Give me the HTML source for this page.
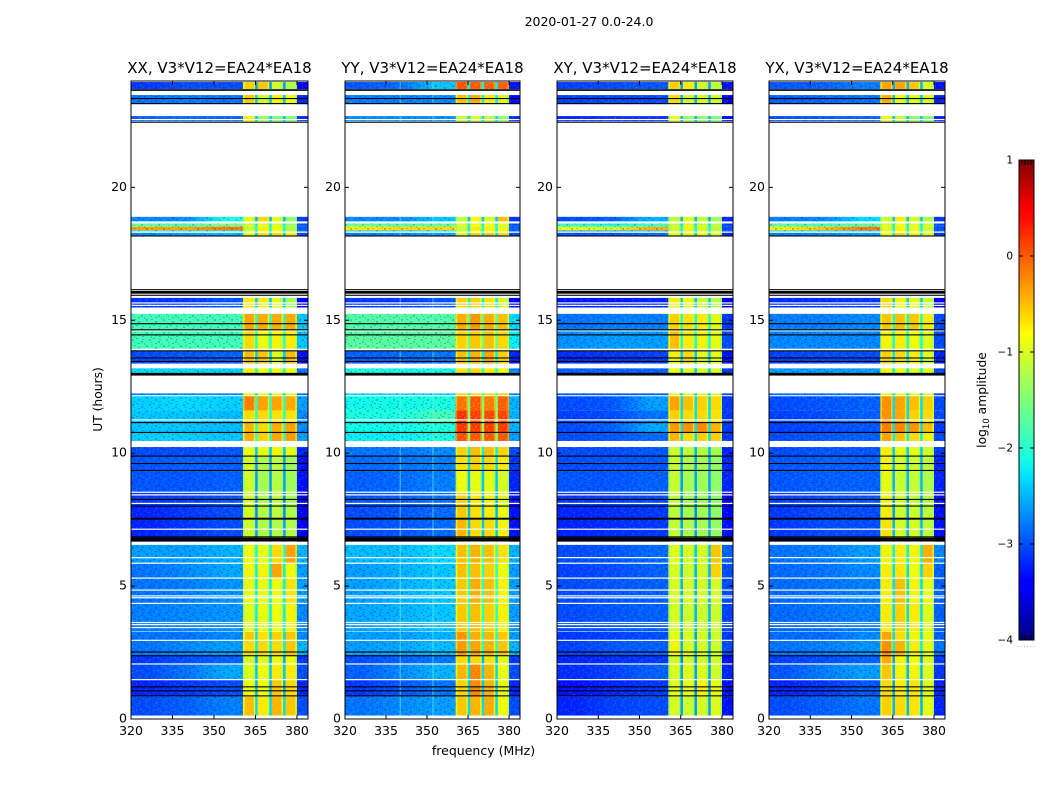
<!DOCTYPE html>
<html>
<head>
<meta charset="utf-8">
<title>2020-01-27 0.0-24.0</title>
<style>
html,body{margin:0;padding:0;background:#fff;width:1050px;height:800px;overflow:hidden}
svg{display:block}
text{font-family:"DejaVu Sans","Liberation Sans",sans-serif;fill:#000}
</style>
</head>
<body>
<svg id="chart" xmlns="http://www.w3.org/2000/svg" width="1050" height="800" viewBox="0 0 1050 800">
  <defs id="defs">
    <pattern id="speckle" width="17" height="13" patternUnits="userSpaceOnUse">
      <rect x="0" y="0" width="2" height="1" fill="#0000d0" opacity=".3"/>
      <rect x="3" y="0" width="1" height="2" fill="#50e0ff" opacity=".2"/>
      <rect x="6" y="1" width="2" height="1" fill="#0000b0" opacity=".25"/>
      <rect x="10" y="0" width="1" height="1" fill="#60e8ff" opacity=".22"/>
      <rect x="13" y="1" width="2" height="2" fill="#0000d0" opacity=".22"/>
      <rect x="1" y="3" width="1" height="1" fill="#60e8ff" opacity=".22"/>
      <rect x="5" y="3" width="2" height="2" fill="#0000d0" opacity=".22"/>
      <rect x="9" y="3" width="2" height="1" fill="#50e0ff" opacity=".18"/>
      <rect x="15" y="4" width="1" height="1" fill="#0000a0" opacity=".28"/>
      <rect x="2" y="5" width="2" height="1" fill="#0000b0" opacity=".26"/>
      <rect x="8" y="5" width="1" height="2" fill="#0000d0" opacity=".22"/>
      <rect x="12" y="5" width="2" height="1" fill="#60e8ff" opacity=".18"/>
      <rect x="0" y="7" width="1" height="2" fill="#50e0ff" opacity=".18"/>
      <rect x="4" y="7" width="2" height="1" fill="#60e8ff" opacity=".18"/>
      <rect x="10" y="7" width="2" height="2" fill="#0000c0" opacity=".24"/>
      <rect x="15" y="7" width="2" height="1" fill="#0000d0" opacity=".22"/>
      <rect x="2" y="9" width="2" height="2" fill="#0000c0" opacity=".22"/>
      <rect x="7" y="9" width="1" height="1" fill="#60e8ff" opacity=".2"/>
      <rect x="13" y="9" width="1" height="2" fill="#50e0ff" opacity=".18"/>
      <rect x="6" y="11" width="2" height="1" fill="#0000b0" opacity=".25"/>
      <rect x="10" y="11" width="2" height="1" fill="#60e8ff" opacity=".18"/>
      <rect x="15" y="11" width="1" height="2" fill="#0000c0" opacity=".22"/>
    </pattern>
    <pattern id="gold-speckle" width="11" height="9" patternUnits="userSpaceOnUse">
      <rect x="0" y="0" width="2" height="1" fill="#a0ff50" opacity=".3"/>
      <rect x="5" y="1" width="1" height="2" fill="#ff9000" opacity=".25"/>
      <rect x="8" y="2" width="2" height="1" fill="#a0ff50" opacity=".25"/>
      <rect x="2" y="3" width="2" height="2" fill="#ffe000" opacity=".25"/>
      <rect x="7" y="5" width="2" height="1" fill="#ff9000" opacity=".2"/>
      <rect x="0" y="6" width="1" height="2" fill="#a0ff50" opacity=".25"/>
      <rect x="4" y="7" width="2" height="1" fill="#a0ff50" opacity=".25"/>
    </pattern>
    <linearGradient id="jet-gradient" x1="0" y1="1" x2="0" y2="0">
      <stop offset="0" stop-color="#000080"/>
      <stop offset=".11" stop-color="#0000ff"/>
      <stop offset=".125" stop-color="#0000ff"/>
      <stop offset=".34" stop-color="#00e0ff"/>
      <stop offset=".375" stop-color="#13fde4"/>
      <stop offset=".5" stop-color="#7dff7a"/>
      <stop offset=".64" stop-color="#ffff00"/>
      <stop offset=".66" stop-color="#ffe600"/>
      <stop offset=".89" stop-color="#ff0000"/>
      <stop offset=".91" stop-color="#f00000"/>
      <stop offset="1" stop-color="#800000"/>
    </linearGradient>
  </defs>
  <text x="589" y="26" font-size="12.5" text-anchor="middle">2020-01-27 0.0-24.0</text>
  <text x="483.5" y="755" font-size="12.5" text-anchor="middle">frequency (MHz)</text>
  <text transform="translate(102,399.5) rotate(-90)" font-size="12.3" text-anchor="middle">UT (hours)</text>
  <g id="panels"></g>
  <g id="colorbar">
    <rect x="1019" y="160" width="15" height="480" fill="url(#jet-gradient)" stroke="#000" stroke-width="1"/>
    <text transform="translate(986,400) rotate(-90)" font-size="12.3" text-anchor="middle">log<tspan font-size="8.5" dy="3">10</tspan><tspan dy="-3"> amplitude</tspan></text>
    <text x="1017" y="647" font-size="6" letter-spacing="1.3" style="fill:#777">......</text>
  </g>
</svg>
<script>
/* ---------- shared axes data ---------- */
var freqTicks = [320, 335, 350, 365, 380];
var timeTicks = [0, 5, 10, 15, 20];
var colorbarTicks = [1, 0, -1, -2, -3, -4];
var colorbarEdgeTicks = [0, 0.2, 0.4, 0.6, 0.8, 1];
var panelTitles = ['XX, V3*V12=EA24*EA18', 'YY, V3*V12=EA24*EA18', 'XY, V3*V12=EA24*EA18', 'YX, V3*V12=EA24*EA18'];

/* time extent of each row of cells, UT hours */
var rowTimes = [
[0.13,0.84],[0.84,1.48],[1.48,2.08],[2.08,2.38],[2.38,2.95],[2.95,3.28],[3.30,4.33],[4.33,5.31],[5.31,5.87],[5.87,6.55],
[6.67,7.52],[7.52,8.01],[8.01,8.54],[8.54,9.36],[9.36,9.89],[9.89,10.23],[10.46,10.79],[10.79,11.16],[11.16,11.61],[11.61,12.14],
[12.18,12.25],[13.01,13.19],[13.37,13.86],[13.93,14.58],[14.62,15.24],[15.48,15.84],[18.19,18.29],[18.34,18.38],[18.38,18.52],[18.52,18.57],
[18.57,18.64],[18.72,18.89],[22.49,22.68],[23.13,23.47],[23.70,23.96]];

/* frequency extent of each column, MHz; last value of each row is the notch level */
var bandEdges = [[320,333],[333,347],[347,360.5],[360.5,365],[365,370],[370,375],[375,380],[380,384]];
var notchBands = [[364.9,365.8],[370,370.9],[375,375.9]];

/* log10 amplitude: low1, low2, low3, sub1, sub2, sub3, sub4, high, notch */
var valuesXX = [
[-3,-2.9,-2.75,-.45,-.7,-.4,-.5,-3,-2.3],[-3.2,-3.1,-3,-.8,-.8,-.5,-.6,-3.2,-2.5],[-3,-2.8,-2.55,-.9,-.8,-.7,-.7,-3,-2.4],[-3.1,-3,-2.9,-.95,-.9,-.85,-.8,-3.1,-2.6],
[-2.8,-2.7,-2.6,-.6,-.6,-.6,-.5,-2.5,-2.2],[-2.8,-2.8,-2.7,-.5,-.65,-.55,-.5,-2.7,-2.3],[-2.75,-2.7,-2.65,-.9,-.85,-.8,-.75,-2.7,-2.2],[-2.8,-2.75,-2.65,-.85,-.85,-.8,-.65,-2.6,-2.2],
[-2.8,-2.7,-2.55,-.75,-.75,-.3,-.8,-2.6,-2.2],[-2.6,-2.6,-2.5,-.8,-.85,-.6,-.3,-2.5,-2.1],[-3.2,-3.1,-3,-1,-1.2,-1.2,-1.2,-3.4,-2.6],[-3.2,-3.1,-3,-.95,-1.15,-1.1,-1.2,-3.4,-2.7],
[-3.1,-3.05,-2.95,-.95,-1.2,-1.1,-1.25,-3.4,-2.7],[-2.95,-2.95,-2.9,-1,-1.25,-1.15,-1.3,-3.3,-2.6],[-2.95,-2.9,-2.9,-.95,-1.2,-1.1,-1.3,-3.3,-2.6],[-3,-3,-2.95,-.8,-.85,-.75,-.85,-3.2,-2.4],
[-2.35,-2.35,-2.4,-.35,-.55,-.3,-.25,-2.6,-2],[-2.4,-2.4,-2.45,-.4,-.6,-.35,-.3,-2.7,-2],[-2.4,-2.4,-2.45,-.6,-.6,-.65,-.65,-2.7,-2],[-2.35,-2.3,-2.35,-.1,-.3,-.3,-.35,-2.6,-2],
[-2.7,-2.7,-2.7,-.8,-.8,-.8,-.8,-2.8,-2.3],[-2.3,-2.3,-2.35,-.7,-.8,-.8,-.8,-2.8,-2.1],[-3,-2.95,-2.9,-.45,-.5,-.9,-.45,-3.3,-2.4],[-1.85,-1.85,-1.85,-.6,-.8,-.75,-.7,-2.4,-2],
[-1.85,-1.85,-1.85,-.3,-.35,-.35,-.35,-2.4,-2],[-3.1,-3.1,-2.95,-.7,-.7,-.9,-1.3,-3.4,-2.4],[-2.7,-2.6,-2.5,-.9,-.65,-.6,-.7,-3,-2.4],[-2.2,-2.3,-2.2,-1.1,-.8,-.9,-1.3,-3,-2.3],
[-.3,-.35,-.1,-1,-.75,-.8,-1.2,-2.9,-2],[-1.6,-1.8,-1.7,-1,-.8,-.9,-1.3,-3,-2.2],[-1.7,-1.9,-1.4,-1,-.8,-.9,-1.3,-3,-2.2],[-2.7,-2.7,-2.1,-.9,-.6,-.9,-1.4,-3.1,-2.5],
[-2.9,-2.85,-2.9,-.7,-1.3,-1.5,-1.5,-3.2,-2.4],[-2.8,-2.75,-2.8,-.5,-1,-.75,-.8,-3.2,-2.4],[-3.1,-3,-3,-.55,-.5,-1,-1.2,-3.4,-2.6]];

var valuesYY = [
[-2.8,-2.7,-2.6,-.5,-.4,-.35,-.8,-3,-2.3],[-3.1,-2.95,-2.8,-.55,-.15,-.4,-.85,-3.2,-2.4],[-2.9,-2.7,-2.5,-.4,-.15,-.4,-.8,-3,-2.3],[-3,-2.9,-2.8,-.6,-.6,-.65,-.85,-3.1,-2.5],
[-2.6,-2.55,-2.45,-.25,-.3,-.4,-.5,-2.5,-2],[-2.6,-2.6,-2.5,-.2,-.35,-.4,-.5,-2.6,-2.1],[-2.55,-2.5,-2.4,-.5,-.45,-.55,-.75,-2.6,-2],[-2.6,-2.5,-2.4,-.5,-.35,-.45,-.75,-2.6,-2],
[-2.6,-2.5,-2.4,-.45,-.45,-.55,-.8,-2.6,-2],[-2.45,-2.45,-2.3,-.45,-.4,-.45,-.65,-2.5,-1.9],[-3,-2.95,-2.85,-.4,-.6,-.6,-.75,-3.3,-2.4],[-3,-2.95,-2.85,-.5,-.65,-.7,-.8,-3.3,-2.5],
[-2.95,-2.9,-2.8,-.55,-.7,-.75,-.85,-3.3,-2.5],[-2.9,-2.85,-2.75,-.8,-.85,-.85,-.95,-3.2,-2.4],[-2.85,-2.8,-2.75,-.65,-.55,-.6,-.7,-3.1,-2.3],[-2.8,-2.8,-2.7,-.55,-.45,-.45,-.55,-3,-2.2],
[-2.2,-2.2,-2.1,.15,.1,.1,.1,-2.6,-1.4],[-2.15,-2.15,-2.05,.3,.25,.25,.25,-2.5,-1.4],[-2.1,-2.1,-1.85,.3,.25,.2,.2,-2.5,-1.4],[-2.15,-2.15,-2.1,-.05,.1,-.1,.05,-2.5,-1.5],
[-2.3,-2.3,-2.3,-.6,-.6,-.6,-.6,-2.7,-2],[-2.1,-2.15,-2.15,-.65,-.6,-.7,-.8,-2.7,-2],[-2.9,-2.85,-2.8,-.45,-.4,-.3,-.55,-3.2,-2.2],[-1.7,-1.7,-1.7,-.55,-.5,-.45,-.6,-2.2,-1.6],
[-1.75,-1.75,-1.75,-.35,-.25,-.35,-.45,-2.3,-1.7],[-3.1,-3.1,-2.95,-.55,-.55,-.65,-.95,-3.4,-2.2],[-2.75,-2.7,-2.6,-.85,-.55,-.5,-.65,-3,-2.3],[-2.4,-2.4,-2.3,-1.1,-.85,-.9,-1,-3,-2.3],
[-.7,-.6,-.6,-1,-.7,-.75,-.8,-2.9,-2.1],[-1.4,-1.5,-1.5,-.95,-.8,-.8,-.9,-3,-2.2],[-1.7,-1.9,-1.7,-.9,-.8,-.8,-.8,-3,-2.2],[-2.7,-2.7,-2.4,-1.05,-.8,-.9,-.45,-3.1,-2.4],
[-2.7,-2.7,-2.7,-1,-.95,-1.1,-1.4,-3.2,-2.3],[-2.75,-2.75,-2.7,-.45,-.35,-.7,-.9,-3.3,-2.2],[-2.95,-2.85,-2.4,.15,.1,.05,.05,-3.3,-2.2]];

var valuesXY = [
[-3.2,-3.05,-3,-.95,-1,-.95,-.9,-3.3,-2.6],[-3.3,-3.2,-3.1,-.9,-.85,-.75,-.85,-3.3,-2.7],[-3.15,-3.05,-2.9,-.95,-.9,-.9,-1,-3.2,-2.6],[-3.2,-3.15,-3.1,-1,-1,-1,-1,-3.3,-2.7],
[-3.05,-2.95,-2.9,-.75,-.9,-.95,-1,-3,-2.5],[-3.1,-3.05,-3,-.85,-.95,-.95,-1,-3.1,-2.6],[-3,-2.95,-2.9,-.95,-1,-1,-1,-3.05,-2.5],[-3,-2.95,-2.9,-.95,-.95,-.95,-.95,-3,-2.5],
[-3.05,-3,-2.9,-.95,-1,-.95,-.55,-3,-2.5],[-3,-2.95,-2.85,-.9,-.95,-.95,-.5,-2.9,-2.4],[-3.2,-3.15,-3.1,-1.05,-1.2,-1.25,-1.35,-3.3,-2.6],[-3.2,-3.15,-3.1,-1.1,-1.25,-1.3,-1.4,-3.4,-2.7],
[-3.1,-3.05,-3,-1.05,-1.25,-1.3,-1.4,-3.4,-2.7],[-2.95,-2.95,-2.9,-1.05,-1.25,-1.3,-1.4,-3.2,-2.6],[-3,-2.95,-2.95,-1.05,-1.2,-1.25,-1.35,-3.2,-2.6],[-3,-3,-2.95,-1,-1.1,-1.15,-1.25,-3.2,-2.5],
[-3,-2.95,-2.85,-.4,-.6,-.55,-.55,-3.1,-2.3],[-3,-2.9,-2.55,-.25,-.2,-.15,-.4,-3.1,-2.3],[-3.05,-3,-2.8,-.55,-.6,-.6,-.65,-3.1,-2.3],[-3,-2.95,-2.6,-.3,-.45,-.55,-.6,-3.1,-2.3],
[-2.9,-2.9,-2.9,-.8,-.85,-.85,-.9,-3,-2.4],[-2.9,-2.9,-2.9,-.8,-.9,-.9,-.95,-3.1,-2.4],[-3.15,-3.1,-3.05,-.75,-.6,-.85,-.85,-3.3,-2.4],[-2.65,-2.6,-2.6,-.45,-.7,-.75,-.85,-3,-2.1],
[-2.8,-2.75,-2.75,-.55,-.65,-.7,-.85,-3.1,-2.1],[-3.25,-3.25,-3.2,-.7,-.8,-1,-1.15,-3.5,-2.4],[-2.95,-2.95,-2.8,-.85,-.75,-.8,-.85,-3.2,-2.4],[-2.6,-2.6,-2.5,-1.15,-1,-1,-1.15,-3.1,-2.3],
[-.8,-1,-.4,-1,-.8,-.95,-1.15,-3,-2.1],[-1.8,-1.9,-1.9,-1.05,-.9,-1,-1.1,-3.1,-2.3],[-2,-2.2,-1.9,-1.05,-.9,-1,-1.1,-3.1,-2.3],[-3,-2.9,-2.5,-1.1,-.85,-1.1,-1.3,-3.2,-2.5],
[-3.2,-3.15,-3.15,-.8,-1.3,-1.4,-1.5,-3.4,-2.5],[-3.05,-3,-3,-.6,-1,-.9,-1,-3.4,-2.5],[-3.05,-3,-2.95,-.55,-.7,-1,-1.1,-3.3,-2.6]];

var valuesYX = [
[-3,-2.9,-2.8,-.55,-.6,-.65,-.85,-3.2,-2.5],[-3.2,-3.1,-2.95,-.6,-.7,-.65,-.9,-3.2,-2.6],[-2.95,-2.75,-2.6,-.5,-.75,-.75,-.9,-3.1,-2.5],[-3.05,-3,-2.9,-.35,-.75,-.8,-.9,-3.1,-2.6],
[-2.8,-2.75,-2.65,-.2,-.4,-.7,-.85,-2.8,-2.2],[-2.85,-2.85,-2.7,-.3,-.6,-.75,-.85,-2.9,-2.3],[-2.85,-2.8,-2.75,-.7,-.55,-.7,-.9,-2.9,-2.3],[-2.85,-2.8,-2.75,-.7,-.45,-.75,-.85,-2.9,-2.3],
[-2.85,-2.8,-2.7,-.7,-.65,-.8,-.55,-2.9,-2.3],[-2.8,-2.75,-2.6,-.75,-.7,-.75,-.35,-2.7,-2.2],[-3.1,-3,-3,-.65,-.95,-.95,-1.1,-3.3,-2.5],[-3.1,-3,-3,-.7,-1,-1,-1.1,-3.3,-2.6],
[-3.05,-3,-2.95,-.75,-1,-1.05,-1.15,-3.3,-2.6],[-2.95,-2.9,-2.9,-.85,-1.05,-1.05,-1.2,-3.2,-2.5],[-2.95,-2.9,-2.9,-.75,-.95,-1,-1.1,-3.2,-2.5],[-3,-2.95,-2.95,-.7,-.85,-.85,-1,-3.1,-2.4],
[-3,-2.95,-2.9,-.3,-.45,-.6,-.75,-3,-2.2],[-3.05,-3,-2.95,-.1,-.15,-.2,-.45,-3.1,-2.3],[-3.05,-3,-2.9,-.2,-.3,-.55,-.6,-3,-2.3],[-3,-2.95,-2.9,-.2,-.3,-.45,-.55,-3,-2.3],
[-2.8,-2.8,-2.8,-.7,-.8,-.8,-.8,-3,-2.3],[-2.6,-2.6,-2.6,-.75,-.85,-.9,-.9,-3,-2.2],[-3.05,-3,-3,-.55,-.6,-.7,-.9,-3.2,-2.3],[-2.7,-2.7,-2.7,-.75,-.7,-.8,-.9,-3,-2.1],
[-2.75,-2.75,-2.7,-.5,-.45,-.5,-.7,-3,-2.1],[-3.15,-3.15,-3.1,-.6,-.75,-.85,-1.1,-3.4,-2.4],[-2.75,-2.7,-2.6,-.8,-.6,-.7,-.85,-3.1,-2.3],[-2.35,-2.35,-2.35,-.9,-.8,-.95,-1.05,-3,-2.2],
[-.7,-.5,-.1,-.9,-.75,-.85,-1,-3,-2.1],[-1.6,-1.7,-1.7,-.9,-.8,-.9,-1,-3,-2.2],[-1.8,-2,-1.7,-.9,-.8,-.9,-1,-3,-2.2],[-2.75,-2.7,-2.3,-1.05,-.7,-.95,-1.2,-3.1,-2.4],
[-3,-2.95,-2.9,-.8,-1.1,-1.35,-1.45,-3.2,-2.4],[-2.9,-2.85,-2.8,-.35,-.85,-.85,-.9,-3.2,-2.4],[-2.95,-2.9,-2.75,-.3,-.3,-.5,-.95,-3.3,-2.5]];

/* flagged times, UT hours */
var whiteLineTimes = [1.48,2.07,2.96,3.44,3.55,3.63,4.35,4.56,4.63,4.85,5.30,5.86,6.07,7.14,8.11,8.43,8.53,11.25,15.56,15.65,22.55];
var blackLineTimes = [0.87,1.06,1.21,2.38,2.52,6.73,6.70,6.77,6.80,6.85,7.55,7.52,8.01,8.26,9.35,9.61,9.89,10.78,11.15,12.97,12.94,13.00,13.45,13.58,13.85,14.45,14.64,14.87,15.94,16.02,16.05,16.08,16.15,18.17,22.45,23.15,23.34,23.67,23.65];
var yyInterferenceMHz = [340, 352];

/* ---------- drawing ---------- */
var NS = 'http://www.w3.org/2000/svg';
var panelValues = [valuesXX, valuesYY, valuesXY, valuesYX];
var panelBoxes = [[131,308],[345,520],[557,733],[769,945]];
var plotTop = 81, plotBottom = 719;
var tMin = 0, tMax = 24, fMin = 320, fMax = 384;
var lowEnd = 360.5, edgeWidth = 1.6, edgeDrop = 0.35;

function yScale(ut){ return plotBottom - (ut - tMin) / (tMax - tMin) * (plotBottom - plotTop); }
function xScale(box, f){ return box[0] + (f - fMin) / (fMax - fMin) * (box[1] - box[0]); }
function clamp01(v){ return Math.max(0, Math.min(1, v)); }
function jet(v){
  var t = clamp01((v + 4) / 5), r, g, b;
  r = t < .35 ? 0 : t < .66 ? (t - .35) / .31 : t < .89 ? 1 : 1 - .5 * (t - .89) / .11;
  g = t < .125 ? 0 : t < .375 ? (t - .125) / .25 : t < .64 ? 1 : t < .91 ? 1 - (t - .64) / .27 : 0;
  b = t < .11 ? .5 + .5 * t / .11 : t < .34 ? 1 : t < .65 ? 1 - (t - .34) / .31 : 0;
  return 'rgb(' + Math.round(r * 255) + ',' + Math.round(g * 255) + ',' + Math.round(b * 255) + ')';
}
function make(tag, parent, attrs){
  var el = document.createElementNS(NS, tag);
  for (var k in attrs) el.setAttribute(k, attrs[k]);
  parent.appendChild(el);
  return el;
}

var root = document.getElementById('panels');
var defs = document.getElementById('defs');
panelValues.forEach(function(matrix, p){
  var box = panelBoxes[p];
  var g = make('g', root, {});
  
  

  matrix.forEach(function(row, r){
    var y1 = yScale(rowTimes[r][1]), y0 = yScale(rowTimes[r][0]);
    var lowX0 = xScale(box, fMin), lowX1 = xScale(box, lowEnd);

    /* low-frequency span: the three readings blend smoothly across the band */
    var gradId = 'low-' + p + '-' + r;
    var grad = make('linearGradient', defs, {id: gradId, x1: 0, y1: 0, x2: 1, y2: 0});
    [[0.16, row[0]], [0.5, row[1]], [0.83, row[2]]].forEach(function(stop){
      make('stop', grad, {offset: stop[0], 'stop-color': jet(stop[1])});
    });
    var lowCell = make('rect', g, {x: lowX0, y: y1, width: lowX1 - lowX0 + .3, height: y0 - y1, fill: 'url(#' + gradId + ')'});
    
    

    /* sub-bands and the high band */
    bandEdges.slice(3).forEach(function(edge, i){
      var c = i + 3;
      var x0 = xScale(box, edge[0]), x1 = xScale(box, edge[1]);
      var cell = make('rect', g, {x: x0, y: y1, width: x1 - x0 + .3, height: y0 - y1, fill: jet(row[c])});
      
      
      if (c < 7) {
        var edgeFill = jet(Math.min(row[c], row[c] - edgeDrop < -1.3 ? -1.3 : row[c] - edgeDrop));
        [x0, x1 - edgeWidth].forEach(function(ex){
          var rim = make('rect', g, {x: ex, y: y1, width: edgeWidth, height: y0 - y1, fill: edgeFill});
          
          
        });
        var mott = make('rect', g, {x: x0, y: y1, width: x1 - x0, height: y0 - y1, fill: 'url(#gold-speckle)'});
        
        
      }
    });

    notchBands.forEach(function(edge){
      var x0 = xScale(box, edge[0]), x1 = xScale(box, edge[1]);
      var notch = make('rect', g, {x: x0, y: y1, width: x1 - x0, height: y0 - y1, fill: jet(row[8])});
      
      
    });
    [[fMin, lowEnd], [380, fMax]].forEach(function(span){
      var x0 = xScale(box, span[0]), x1 = xScale(box, span[1]);
      var tex = make('rect', g, {x: x0, y: y1, width: x1 - x0, height: y0 - y1, fill: 'url(#speckle)'});
      
      
    });
  });

  if (p === 1) {
    yyInterferenceMHz.forEach(function(f){
      rowTimes.forEach(function(span){
        var y1 = yScale(span[1]), y0 = yScale(span[0]);
        var line = make('rect', g, {x: xScale(box, f), y: y1, width: 1, height: y0 - y1, fill: '#7fffd0', opacity: .6});
        
        
      });
    });
  }

  whiteLineTimes.forEach(function(t){
    var line = make('rect', g, {x: box[0], y: yScale(t) - .6, width: box[1] - box[0], height: 1.2, fill: '#fff'});
    
    
  });
  blackLineTimes.forEach(function(t){
    var line = make('rect', g, {x: box[0], y: yScale(t) - .55, width: box[1] - box[0], height: 1.1, fill: '#000'});
    
    
  });

  var frame = make('rect', g, {x: box[0], y: plotTop, width: box[1] - box[0], height: plotBottom - plotTop, fill: 'none', stroke: '#000', 'stroke-width': 1});
  
  

  var title = make('text', g, {x: (box[0] + box[1]) / 2, y: 73, 'font-size': 15, 'text-anchor': 'middle'});
  title.textContent = panelTitles[p];
  
  

  freqTicks.forEach(function(f){
    var x = xScale(box, f);
    var tickB = make('line', g, {x1: x, x2: x, y1: plotBottom, y2: plotBottom - 4, stroke: '#000', 'stroke-width': 1});
    
    
    var tickT = make('line', g, {x1: x, x2: x, y1: plotTop, y2: plotTop + 4, stroke: '#000', 'stroke-width': 1});
    
    
    var lab = make('text', g, {x: x, y: 735, 'font-size': 12.5, 'text-anchor': 'middle'});
    lab.textContent = String(f);
    
    
  });
  timeTicks.forEach(function(t){
    var y = yScale(t);
    var tickL = make('line', g, {x1: box[0], x2: box[0] + 4, y1: y, y2: y, stroke: '#000', 'stroke-width': 1});
    
    
    var tickR = make('line', g, {x1: box[1], x2: box[1] - 4, y1: y, y2: y, stroke: '#000', 'stroke-width': 1});
    
    
    var lab = make('text', g, {x: box[0] - 4, y: y + 3.5, 'font-size': 12.5, 'text-anchor': 'end'});
    lab.textContent = String(t);
    
    
  });
});

/* colorbar ticks */
var cb = document.getElementById('colorbar');
var cbTop = 160, cbBottom = 640, cbLeft = 1019, cbRight = 1034;
function cbY(v){ return cbBottom - (v + 4) / 5 * (cbBottom - cbTop); }
function cbX(u){ return cbLeft + u * (cbRight - cbLeft); }
colorbarTicks.forEach(function(v){
  var y = cbY(v);
  var tL = make('line', cb, {x1: cbLeft, x2: cbLeft + 4, y1: y, y2: y, stroke: '#000', 'stroke-width': 1});
  
  
  var tR = make('line', cb, {x1: cbRight, x2: cbRight - 4, y1: y, y2: y, stroke: '#000', 'stroke-width': 1});
  
  
  var lab = make('text', cb, {x: 1013, y: y + 3.5, 'font-size': 10.5, 'text-anchor': 'end'});
  lab.textContent = v < 0 ? '\u2212' + Math.abs(v) : String(v);
  
  
});
colorbarEdgeTicks.forEach(function(u){
  var x = cbX(u);
  var tTop = make('line', cb, {x1: x, x2: x, y1: cbTop, y2: cbTop + 5, stroke: '#000', 'stroke-width': 1});
  
  
  var tBot = make('line', cb, {x1: x, x2: x, y1: cbBottom, y2: cbBottom - 5, stroke: '#000', 'stroke-width': 1});
  
  
});
</script>
</body>
</html>
